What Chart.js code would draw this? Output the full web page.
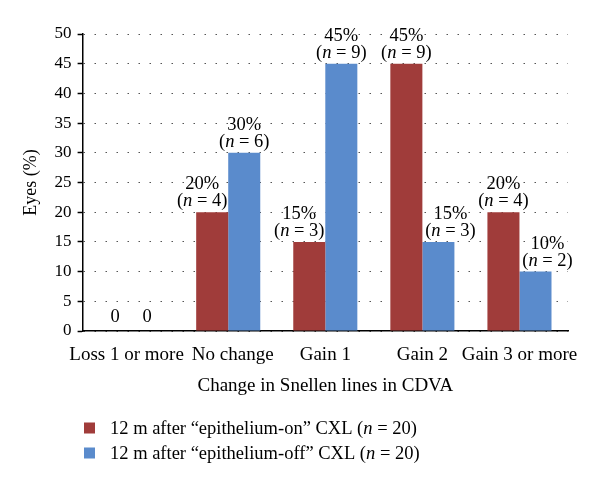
<!DOCTYPE html>
<html>
<head>
<meta charset="utf-8">
<script src="https://cdn.jsdelivr.net/npm/chart.js@4.4.1/dist/chart.umd.min.js"></script>
<style>
  html, body { margin: 0; padding: 0; background: #fff; }
  #wrap { width: 600px; height: 485px; }
</style>
</head>
<body>
<div id="wrap"><canvas id="snellenChart"></canvas></div>
<script>
const categories = ['Loss 1 or more', 'No change', 'Gain 1', 'Gain 2', 'Gain 3 or more'];
const epiOnPct = [0, 20, 15, 45, 20];
const epiOffPct = [0, 30, 45, 15, 10];
const epiOnN = [0, 4, 3, 9, 4];
const epiOffN = [0, 6, 9, 3, 2];
const seriesNames = ['12 m after “epithelium-on” CXL', '12 m after “epithelium-off” CXL'];
const seriesTotals = [20, 20];

const RED = '#a03c3a';
const BLUE = '#5a8bcc';
const FONT = '"Liberation Serif", "Times New Roman", serif';
const LABEL_FS = 18.5;
const CAT_FS = 19;

// draws a run of text pieces, some italic, starting at x
function drawRich(ctx, pieces, x, y, align, size) {
    const widths = pieces.map(([txt, it]) => {
        ctx.font = (it ? 'italic ' : '') + size + 'px ' + FONT;
        return ctx.measureText(txt).width;
    });
    const total = widths.reduce((a, b) => a + b, 0);
    let cx = align === 'center' ? x - total / 2 : x;
    pieces.forEach(([txt, it], i) => {
        ctx.font = (it ? 'italic ' : '') + size + 'px ' + FONT;
        ctx.fillText(txt, cx, y);
        cx += widths[i];
    });
}

const valueLabels = {
    id: 'valueLabels',
    afterDatasetsDraw(chart) {
        const ctx = chart.ctx;
        const sets = chart.data.datasets;
        ctx.save();
        ctx.fillStyle = '#000';
        ctx.textAlign = 'left';
        ctx.textBaseline = 'alphabetic';
        sets.forEach((ds, di) => {
            const meta = chart.getDatasetMeta(di);
            const other = sets[1 - di].data;
            meta.data.forEach((bar, i) => {
                const v = ds.data[i];
                if (v === 0) {
                    drawRich(ctx, [['0', false]], bar.x, bar.y - 9, 'center', LABEL_FS);
                    return;
                }
                // nudge the label away from a taller neighbour bar
                let shift = 0;
                if (other[i] > v) shift = di === 0 ? -10 : 12;
                const x = bar.x + shift;
                drawRich(ctx, [['(', false], ['n', true], [' = ' + ds.nValues[i] + ')', false]], x, bar.y - 6, 'center', LABEL_FS);
                drawRich(ctx, [[v + '%', false]], x, bar.y - 23, 'center', LABEL_FS);
            });
        });
        ctx.restore();
    }
};

// category labels, pushed apart a little where neighbours would touch
const categoryLabels = {
    id: 'categoryLabels',
    afterDraw(chart) {
        const ctx = chart.ctx;
        const xs = chart.scales.x;
        ctx.save();
        ctx.font = CAT_FS + 'px ' + FONT;
        ctx.fillStyle = '#000';
        ctx.textAlign = 'center';
        ctx.textBaseline = 'middle';
        const centers = categories.map((c, i) => xs.getPixelForValue(i));
        const widths = categories.map(c => ctx.measureText(c).width);
        const gap = 8;
        for (let i = 0; i < categories.length - 1; i++) {
            const overlap = (centers[i] + widths[i] / 2 + gap) - (centers[i + 1] - widths[i + 1] / 2);
            if (overlap > 0) {
                centers[i] -= overlap / 2;
                centers[i + 1] += overlap / 2;
            }
        }
        categories.forEach((c, i) => ctx.fillText(c, centers[i], xs.top + 24));
        ctx.restore();
    }
};

const legendBox = {
    id: 'legendBox',
    afterDraw(chart) {
        const ctx = chart.ctx;
        ctx.save();
        ctx.textBaseline = 'middle';
        chart.data.datasets.forEach((ds, i) => {
            const y = 428 + i * 25;
            ctx.fillStyle = ds.backgroundColor;
            ctx.fillRect(84, y - 5.5, 11, 11);
            ctx.fillStyle = '#000';
            drawRich(ctx, [[seriesNames[i] + ' (', false], ['n', true], [' = ' + seriesTotals[i] + ')', false]], 110, y + 1, 'left', 18.5);
        });
        ctx.restore();
    }
};

const canvas = document.getElementById('snellenChart');
new Chart(canvas.getContext('2d'), {
    type: 'bar',
    data: {
        labels: categories,
        datasets: [
            { label: seriesNames[0], data: epiOnPct, nValues: epiOnN, backgroundColor: RED },
            { label: seriesNames[1], data: epiOffPct, nValues: epiOffN, backgroundColor: BLUE }
        ]
    },
    options: {
        responsive: true,
        maintainAspectRatio: false,
        animation: false,
        layout: { padding: { left: 20, right: 32, top: 34, bottom: 88 } },
        datasets: { bar: { categoryPercentage: 0.66, barPercentage: 1 } },
        plugins: {
            legend: { display: false },
            tooltip: { enabled: false }
        },
        scales: {
            x: {
                grid: { display: false, drawTicks: false },
                border: { color: '#000', width: 1.5 },
                ticks: { display: false },
                title: {
                    display: true,
                    text: 'Change in Snellen lines in CDVA',
                    color: '#000',
                    font: { family: FONT, size: CAT_FS },
                    padding: { top: 0, bottom: 0 }
                },
                afterFit(scale) { scale.height = 66; }
            },
            y: {
                min: 0,
                max: 50,
                ticks: {
                    stepSize: 5,
                    color: '#000',
                    font: { family: FONT, size: 17 },
                    padding: 6
                },
                grid: {
                    color: '#555',
                    lineWidth: 1,
                    tickColor: '#000',
                    tickLength: 5,
                    tickWidth: 1.5,
                    tickBorderDash: []
                },
                border: { color: '#000', width: 1.5, dash: [1.5, 9.5] },
                title: {
                    display: true,
                    text: 'Eyes (%)',
                    color: '#000',
                    font: { family: FONT, size: 18 },
                    padding: { top: 0, bottom: 7 }
                }
            }
        }
    },
    plugins: [valueLabels, categoryLabels, legendBox]
});
</script>
</body>
</html>
